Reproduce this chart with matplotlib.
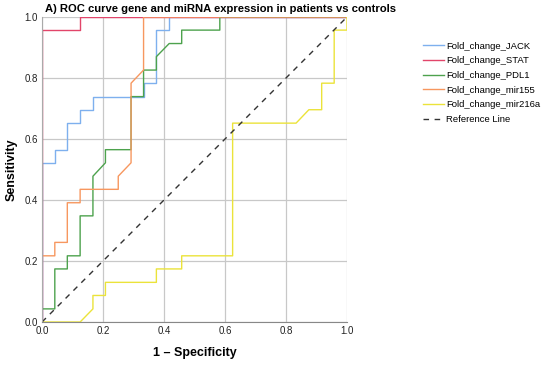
import matplotlib
matplotlib.use("Agg")
import matplotlib.pyplot as plt

plt.rcParams['font.family'] = ['Liberation Sans', 'DejaVu Sans']

# ROC curve points (1 - specificity, sensitivity)
jack_fpr = [0, 0, 0.042, 0.042, 0.083, 0.083, 0.125, 0.125, 0.167, 0.167, 0.333, 0.333, 0.375, 0.375, 0.417, 0.417, 1]
jack_tpr = [0, 0.522, 0.522, 0.565, 0.565, 0.652, 0.652, 0.696, 0.696, 0.739, 0.739, 0.783, 0.783, 0.957, 0.957, 1, 1]

stat_fpr = [0, 0, 0.125, 0.125, 1]
stat_tpr = [0, 0.957, 0.957, 1, 1]

pdl1_fpr = [0, 0, 0.042, 0.042, 0.083, 0.083, 0.125, 0.125, 0.167, 0.167, 0.208, 0.208, 0.292, 0.292,
            0.333, 0.333, 0.375, 0.375, 0.417, 0.458, 0.458, 0.583, 0.583, 1]
pdl1_tpr = [0, 0.043, 0.043, 0.174, 0.174, 0.217, 0.217, 0.348, 0.348, 0.478, 0.522, 0.565, 0.565, 0.739,
            0.739, 0.826, 0.826, 0.870, 0.913, 0.913, 0.957, 0.957, 1, 1]

mir155_fpr = [0, 0, 0.042, 0.042, 0.083, 0.083, 0.125, 0.125, 0.25, 0.25, 0.292, 0.292, 0.333, 0.333, 1]
mir155_tpr = [0, 0.217, 0.217, 0.261, 0.261, 0.391, 0.391, 0.435, 0.435, 0.478, 0.522, 0.783, 0.826, 1, 1]

mir216a_fpr = [0, 0.125, 0.167, 0.167, 0.208, 0.208, 0.375, 0.375, 0.458, 0.458, 0.625, 0.625,
               0.833, 0.875, 0.917, 0.917, 0.958, 0.958, 1, 1]
mir216a_tpr = [0, 0, 0.043, 0.087, 0.087, 0.130, 0.130, 0.174, 0.174, 0.217, 0.217, 0.652,
               0.652, 0.696, 0.696, 0.783, 0.783, 0.957, 0.957, 1]

series = [
    ("Fold_change_JACK", jack_fpr, jack_tpr, "#7eb0ee"),
    ("Fold_change_STAT", stat_fpr, stat_tpr, "#e2456a"),
    ("Fold_change_PDL1", pdl1_fpr, pdl1_tpr, "#4da24d"),
    ("Fold_change_mir155", mir155_fpr, mir155_tpr, "#f7975f"),
    ("Fold_change_mir216a", mir216a_fpr, mir216a_tpr, "#ebe33a"),
]

fig = plt.figure(figsize=(5.5, 3.65), dpi=100)
ax = fig.add_axes([42 / 550, 1 - 322 / 365, 305 / 550, 305 / 365])

for name, fpr, tpr, color in series:
    ax.plot(fpr, tpr, color=color, lw=1.0, label=name)
ax.plot([0, 1], [0, 1], color="#333333", lw=1.0, ls=(0, (4, 4)), label="Reference Line")

ax.set_xlim(0, 1)
ax.set_ylim(0, 1)
ticks = [0, 0.2, 0.4, 0.6, 0.8, 1.0]
ax.set_xticks(ticks)
ax.set_yticks(ticks)
ax.set_xticklabels([f"{t:.1f}" for t in ticks])
ax.set_yticklabels([f"{t:.1f}" for t in ticks])
ax.tick_params(labelsize=7, length=0, pad=3, colors="#222222")
ax.grid(True, color="#c8c8c8", lw=0.9)
ax.set_axisbelow(True)
for side in ["top", "right"]:
    ax.spines[side].set_visible(False)
ax.spines["bottom"].set_color("#888888")
ax.spines["left"].set_color("#aaaaaa")

ax.set_xlabel("1 \u2013 Specificity", fontsize=9, fontweight="bold", labelpad=8)
ax.set_ylabel("Sensitivity", fontsize=9, fontweight="bold", labelpad=5)

fig.text(45 / 550, 1 - 9 / 365, "A) ROC curve gene and miRNA expression in patients vs controls",
         fontsize=8.1, fontweight="bold", va="center", ha="left")

ax.legend(loc="upper left", bbox_to_anchor=(377 / 305, (322 - 38) / 305), frameon=False,
          fontsize=6.8, handlelength=2.2, handletextpad=0.3, labelspacing=0.6, borderaxespad=0)

fig.savefig("out.png", dpi=100)
